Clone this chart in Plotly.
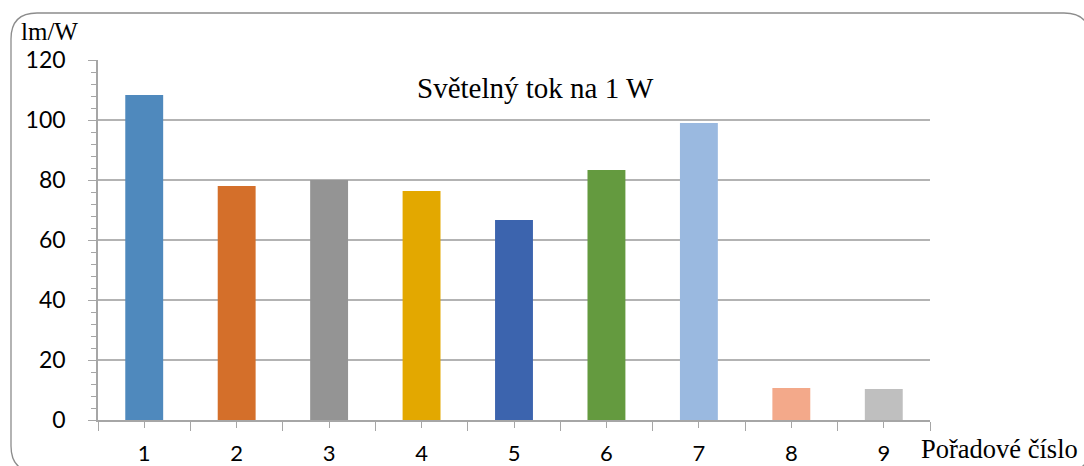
import plotly.graph_objects as go

# Luminous flux per watt for each numbered light source
categories = [1, 2, 3, 4, 5, 6, 7, 8, 9]
lumens_per_watt = [108.3, 78.0, 80.0, 76.3, 66.7, 83.3, 99.0, 10.7, 10.3]
bar_colors = ["#4F89BD", "#D46F2A", "#949494", "#E3A800", "#3C64AE",
              "#649A3F", "#9AB9E0", "#F3A98A", "#BFBFBF"]
y_ticks = [0, 20, 40, 60, 80, 100, 120]

W, H = 1084, 466
L, R, T, B = 98, 154, 60, 46
pw, ph = W - L - R, H - T - B


def px(x):
    return (x - L) / pw


def py(y):
    return (H - B - y) / ph


fig = go.Figure(go.Bar(
    x=categories, y=lumens_per_watt,
    marker=dict(color=bar_colors, line=dict(width=0)),
    width=0.41,
))

# Rounded frame around the chart
x0, y0, x1, y1, r = 11, 13, 1090, 472, 26
frame = (f"M {px(x0)},{py(y0 + r)} Q {px(x0)},{py(y0)} {px(x0 + r)},{py(y0)} "
         f"L {px(x1 - r)},{py(y0)} Q {px(x1)},{py(y0)} {px(x1)},{py(y0 + r)} "
         f"L {px(x1)},{py(y1 - r)} Q {px(x1)},{py(y1)} {px(x1 - r)},{py(y1)} "
         f"L {px(x0 + r)},{py(y1)} Q {px(x0)},{py(y1)} {px(x0)},{py(y1 - r)} Z")

serif = "Liberation Serif, Times New Roman, serif"

fig.update_layout(
    width=W, height=H,
    margin=dict(l=L, r=R, t=T, b=B, autoexpand=False),
    paper_bgcolor="white", plot_bgcolor="white",
    showlegend=False,
    font=dict(family="Lato, Carlito, Calibri, sans-serif", size=23, color="#000"),
    shapes=[dict(type="path", path=frame, xref="paper", yref="paper",
                 line=dict(color="#8c8c8c", width=1.3), layer="below")],
    annotations=[
        dict(text="Světelný tok na 1 W", x=px(535), y=py(88), xref="paper", yref="paper",
             xanchor="center", yanchor="middle",
             showarrow=False, font=dict(family=serif, size=29)),
        dict(text="lm/W", x=px(19), y=py(31), xref="paper", yref="paper",
             xanchor="left", yanchor="middle",
             showarrow=False, font=dict(family=serif, size=25)),
        dict(text="Pořadové číslo", x=px(919), y=py(449), xref="paper", yref="paper",
             xanchor="left", yanchor="middle",
             showarrow=False, font=dict(family=serif, size=26.5)),
    ],
)

fig.update_xaxes(
    range=[0.5, 9.5], tickmode="array", tickvals=categories,
    ticktext=[str(c) for c in categories], automargin=False,
    tickfont=dict(size=22),
    showline=True, linecolor="#a6a6a6", linewidth=1.5,
    ticks="outside", ticklen=6, tickcolor="#a6a6a6", tickwidth=1.3,
    ticklabelstandoff=7,
    minor=dict(tickmode="linear", tick0=0.5, dtick=1, ticks="outside", ticklen=9,
               tickcolor="#a6a6a6", tickwidth=1.3, showgrid=False),
    showgrid=False, zeroline=False, fixedrange=True,
)

fig.update_yaxes(
    range=[0, 120], tickmode="array", tickvals=y_ticks, automargin=False,
    showline=True, linecolor="#a6a6a6", linewidth=1.5,
    ticks="outside", ticklen=8, tickcolor="#a6a6a6", tickwidth=1.3,
    ticklabelstandoff=18,
    minor=dict(tickmode="linear", tick0=0, dtick=4, ticks="outside", ticklen=5,
               tickcolor="#a6a6a6", tickwidth=1.3, showgrid=False),
    showgrid=True, gridcolor="#b3b3b3", gridwidth=1.6,
    zeroline=False,
)

fig.write_html("out.html")
